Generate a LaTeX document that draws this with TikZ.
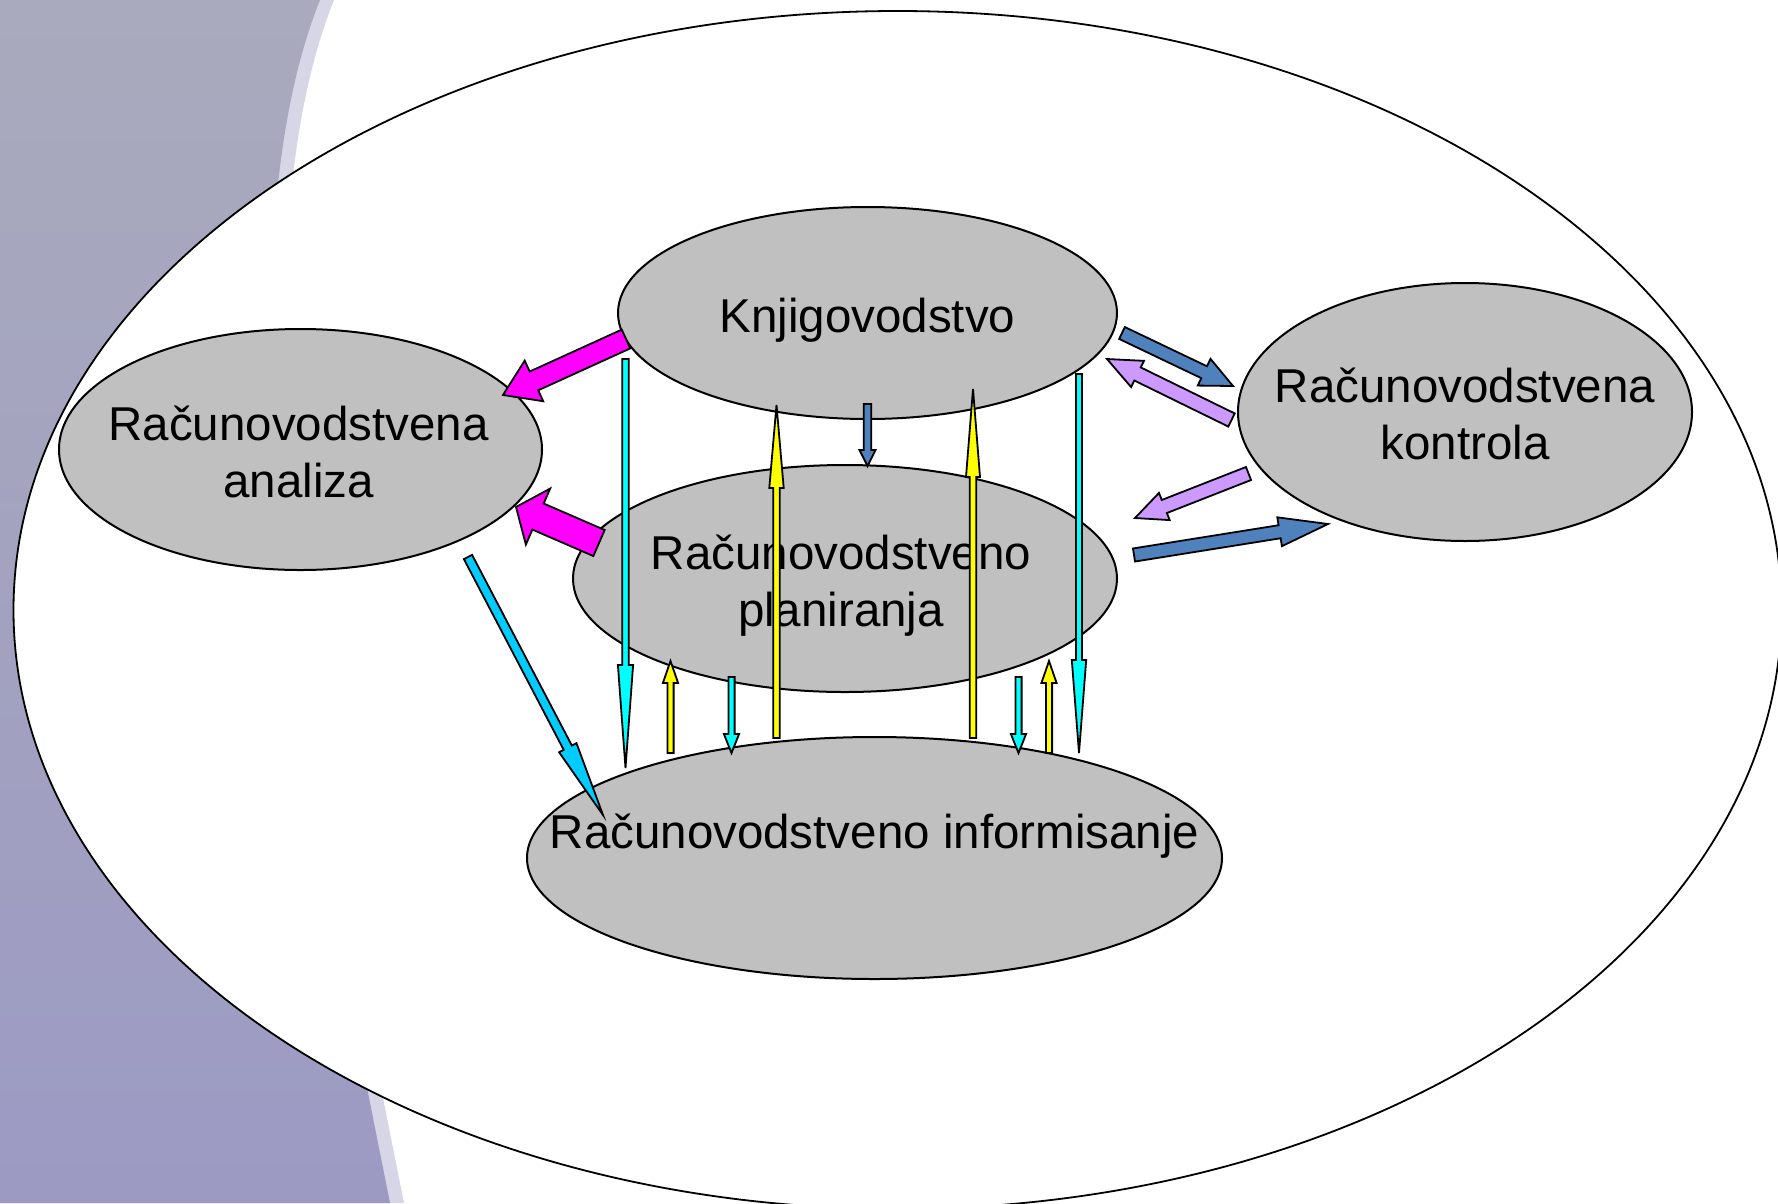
\documentclass[tikz,border=0pt]{standalone}
\usepackage{fontspec}
\setmainfont{Liberation Sans}
\usetikzlibrary{shapes.geometric, calc}
\definecolor{areagray}{RGB}{192,192,192}
\definecolor{paneltop}{RGB}{169,170,189}
\definecolor{panelmid}{RGB}{190,189,210}
\definecolor{panelbot}{RGB}{156,154,195}
\definecolor{panelband}{RGB}{214,214,231}
\definecolor{flowpink}{RGB}{255,0,255}
\definecolor{flowcyan}{RGB}{0,255,255}
\definecolor{flowsky}{RGB}{0,204,255}
\definecolor{flowyellow}{RGB}{255,255,0}
\definecolor{flowblue}{RGB}{79,129,189}
\definecolor{flowlilac}{RGB}{204,153,255}

% block arrow: [fill] {tail} {tip} {half shaft} {half head} {head length}
\newcommand{\blockarrow}[6][]{%
  \coordinate (hb) at ($(#3)!#6!(#2)$);
  \draw[flow, #1] ($(#2)!#4!90:(#3)$) -- ($(hb)!#4!90:(#3)$) -- ($(hb)!#5!90:(#3)$)
    -- (#3) -- ($(hb)!#5!-90:(#3)$) -- ($(hb)!#4!-90:(#3)$) -- ($(#2)!#4!-90:(#3)$) -- cycle;
}

\begin{document}
\begin{tikzpicture}[x=1pt, y=-1pt,
    area/.style={ellipse, draw, line width=2pt, fill=areagray, inner sep=0pt},
    areatext/.style={align=center, font=\fontsize{47.5}{57}\selectfont},
    flow/.style={draw=black, line width=1.8pt, line join=miter}]

    \useasboundingbox (0,0) rectangle (1778,1203);
    \clip (0,0) rectangle (1778,1203);

    % Background panel
    \fill[panelband] (0,0) -- (334,0) .. controls (214,300) and (344,900) .. (404,1203) -- (0,1203) -- cycle;
    \shade[top color=paneltop, middle color=panelmid, bottom color=panelbot]
        (0,0) -- (320,0) .. controls (200,300) and (330,900) .. (390,1203) -- (0,1203) -- cycle;

    % Frame
    \node[ellipse, draw, line width=1.8pt, fill=white, minimum width=1768pt, minimum height=1198pt] (frame) at (897.5,610) {};

    % Areas
    \node[area, minimum width=499pt, minimum height=212pt, label={[areatext, yshift=-7pt]center:Knjigovodstvo}] (knj) at (867.5,313) {};
    \node[area, minimum width=483pt, minimum height=241pt, label={[areatext, yshift=-2pt, xshift=-2pt]center:Računovodstvena\\analiza}] (ana) at (300.5,449.5) {};
    \node[area, minimum width=454pt, minimum height=258pt, label={[areatext, yshift=-2pt]center:Računovodstvena\\kontrola}] (kon) at (1465,412) {};
    \node[area, minimum width=544pt, minimum height=227pt, label={[areatext, yshift=-7pt, xshift=-4pt]center:Računovodstveno\\planiranja}] (plan) at (845,578.5) {};
    \node[area, minimum width=695pt, minimum height=242pt, label={[areatext, yshift=22pt]center:Računovodstveno informisanje}] (inf) at (874.5,858) {};

    % Arrow ends
    \coordinate (ka-s) at (626,339);      \coordinate (ka-e) at (503,395);
    \coordinate (pa-s) at (599,543);      \coordinate (pa-e) at (516,507);
    \coordinate (ki1-s) at (625.5,359);   \coordinate (ki1-e) at (625.5,768);
    \coordinate (ki2-s) at (1079,374);    \coordinate (ki2-e) at (1079,753);
    \coordinate (ik1-s) at (776.5,738);   \coordinate (ik1-e) at (776.5,405);
    \coordinate (ik2-s) at (973,738);     \coordinate (ik2-e) at (973,389);
    \coordinate (kp-s) at (867.5,404);    \coordinate (kp-e) at (867.5,466);
    \coordinate (ip1-s) at (670.5,753);   \coordinate (ip1-e) at (670.5,661);
    \coordinate (ip2-s) at (1049,753);    \coordinate (ip2-e) at (1049,661);
    \coordinate (pi1-s) at (731.5,677);   \coordinate (pi1-e) at (731.5,753);
    \coordinate (pi2-s) at (1018.5,677);  \coordinate (pi2-e) at (1018.5,753);
    \coordinate (ai-s) at (468,557);      \coordinate (ai-e) at (603,815);
    \coordinate (kk-s) at (1122,333);     \coordinate (kk-e) at (1233,386);
    \coordinate (ck-s) at (1231.5,420);   \coordinate (ck-e) at (1107,359);
    \coordinate (cp-s) at (1248.5,473.5); \coordinate (cp-e) at (1135,518);
    \coordinate (pc-s) at (1134,555);     \coordinate (pc-e) at (1328,524);

    % Arrows
    \blockarrow[fill=flowpink]{ka-s}{ka-e}{10.3pt}{22.3pt}{34pt}
    \blockarrow[fill=flowpink]{pa-s}{pa-e}{14.2pt}{30.5pt}{24pt}
    \blockarrow[fill=flowcyan]{ki1-s}{ki1-e}{3.2pt}{7.6pt}{103pt}
    \blockarrow[fill=flowcyan]{ki2-s}{ki2-e}{3.0pt}{7.2pt}{93pt}
    \blockarrow[fill=flowyellow]{ik1-s}{ik1-e}{3.2pt}{7.2pt}{83pt}
    \blockarrow[fill=flowyellow]{ik2-s}{ik2-e}{3.2pt}{7.0pt}{88pt}
    \blockarrow[fill=flowblue]{kp-s}{kp-e}{3.8pt}{8pt}{16pt}
    \blockarrow[fill=flowyellow]{ip1-s}{ip1-e}{3.1pt}{7.6pt}{22pt}
    \blockarrow[fill=flowyellow]{ip2-s}{ip2-e}{3.1pt}{7.6pt}{22pt}
    \blockarrow[fill=flowcyan]{pi1-s}{pi1-e}{3.1pt}{7.6pt}{19pt}
    \blockarrow[fill=flowcyan]{pi2-s}{pi2-e}{3.1pt}{7.6pt}{19pt}
    \blockarrow[fill=flowsky]{ai-s}{ai-e}{4.6pt}{9.8pt}{76pt}
    \blockarrow[fill=flowblue]{kk-s}{kk-e}{6.6pt}{14.8pt}{32pt}
    \blockarrow[fill=flowlilac]{ck-s}{ck-e}{7.3pt}{14.6pt}{34pt}
    \blockarrow[fill=flowlilac]{cp-s}{cp-e}{7.0pt}{14.6pt}{31.5pt}
    \blockarrow[fill=flowblue]{pc-s}{pc-e}{6.6pt}{14.6pt}{49pt}
\end{tikzpicture}
\end{document}
